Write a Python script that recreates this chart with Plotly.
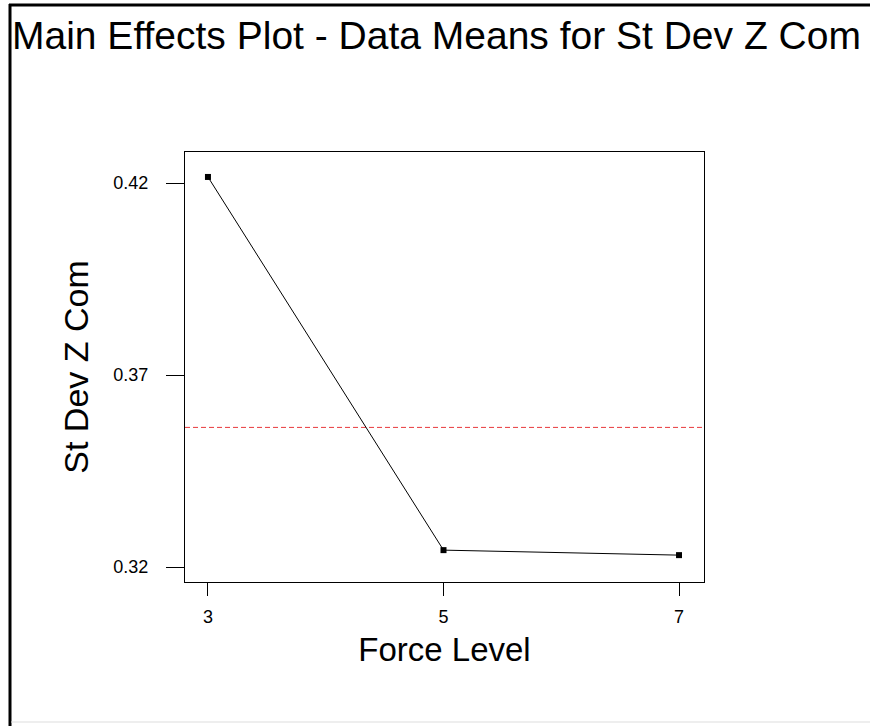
import plotly.graph_objects as go

# Factor levels and the mean response at each level
force_levels = [3, 5, 7]
mean_response = [0.4216, 0.3244, 0.3231]
y_ticks = [0.32, 0.37, 0.42]
x_ticks = [3, 5, 7]

grand_mean = sum(mean_response) / len(mean_response)

W, H = 870, 726
L, R, T, B = 185, 166, 152, 144
plot_w = W - L - R
plot_h = H - T - B


def px_x(p):
    return (p - L) / plot_w


def px_y(p):
    return (H - B - p) / plot_h


fig = go.Figure()

# Grand mean reference line
fig.add_trace(go.Scatter(
    x=[2.805, 7.212], y=[grand_mean, grand_mean],
    mode="lines", line=dict(color="#e8383c", width=1, dash="5px,3px"),
    hoverinfo="skip", showlegend=False,
))

# Level means
fig.add_trace(go.Scatter(
    x=force_levels, y=mean_response,
    mode="lines+markers",
    line=dict(color="black", width=1),
    marker=dict(symbol="square", size=6, color="black"),
    showlegend=False,
))

fig.update_layout(
    width=W, height=H,
    margin=dict(l=L, r=R, t=T, b=B),
    paper_bgcolor="white", plot_bgcolor="white",
    font=dict(family="Arial, Liberation Sans, sans-serif", color="black"),
    title=dict(
        text="Main Effects Plot - Data Means for St Dev Z Com",
        xref="container", yref="container",
        x=12 / W, xanchor="left", y=1 - 35 / H, yanchor="middle",
        font=dict(size=39, color="black"),
    ),
    xaxis=dict(
        range=[2.805, 7.212], tickvals=x_ticks, ticktext=[str(v) for v in x_ticks],
        showgrid=False, zeroline=False,
        showline=True, linecolor="black", linewidth=1, mirror=True,
        ticks="outside", ticklen=13, tickcolor="black", tickwidth=1,
        tickfont=dict(size=18), ticklabelstandoff=5,
        title=dict(text="Force Level", font=dict(size=33), standoff=12),
    ),
    yaxis=dict(
        range=[0.3161, 0.4281], tickvals=y_ticks, ticktext=[f"{v:.2f}" for v in y_ticks],
        showgrid=False, zeroline=False,
        showline=True, linecolor="black", linewidth=1, mirror=True,
        ticks="outside", ticklen=18, tickcolor="black", tickwidth=1,
        tickfont=dict(size=18), ticklabelstandoff=14,
        title=dict(text="St Dev Z Com", font=dict(size=34), standoff=14),
    ),
    shapes=[
        # outer frame: heavy left and top edges, faint bottom edge
        dict(type="line", xref="paper", yref="paper",
             x0=px_x(10), x1=px_x(10), y0=px_y(4), y1=px_y(726),
             line=dict(color="black", width=3)),
        dict(type="line", xref="paper", yref="paper",
             x0=px_x(9), x1=px_x(870), y0=px_y(5), y1=px_y(5),
             line=dict(color="black", width=3)),
        dict(type="line", xref="paper", yref="paper",
             x0=px_x(11), x1=px_x(870), y0=px_y(722), y1=px_y(722),
             line=dict(color="#dddddd", width=1)),
    ],
)

fig.write_html("out.html")
